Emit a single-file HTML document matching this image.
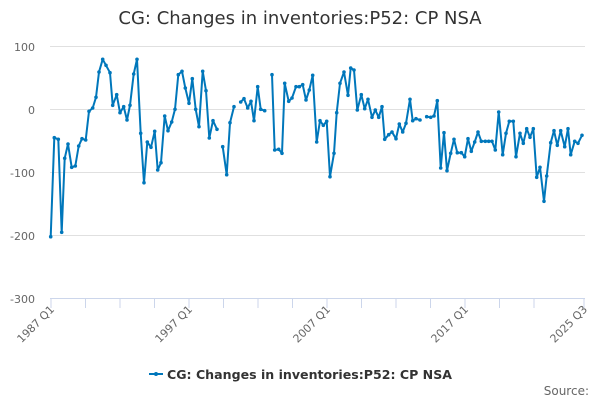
<!DOCTYPE html>
<html><head><meta charset="utf-8"><style>
body{margin:0;background:#fff;}
svg{display:block;font-family:"DejaVu Sans","Liberation Sans",sans-serif;}
</style></head><body>
<svg width="600" height="400" viewBox="0 0 600 400" xmlns="http://www.w3.org/2000/svg">
<text x="300" y="24" text-anchor="middle" font-size="18" fill="#333">CG: Changes in inventories:P52: CP NSA</text>
<g stroke="#e0e0e0" stroke-width="1">
<line x1="50" y1="46.5" x2="585" y2="46.5"/>
<line x1="50" y1="109.5" x2="585" y2="109.5"/>
<line x1="50" y1="172.5" x2="585" y2="172.5"/>
<line x1="50" y1="235.5" x2="585" y2="235.5"/>
</g>
<line x1="50" y1="298.5" x2="585" y2="298.5" stroke="#ccd6eb"/>
<g stroke="#ccd6eb">
<line x1="51" y1="298" x2="51" y2="308"/><line x1="85.5" y1="298" x2="85.5" y2="308"/><line x1="120" y1="298" x2="120" y2="308"/><line x1="154.5" y1="298" x2="154.5" y2="308"/><line x1="189" y1="298" x2="189" y2="308"/><line x1="223.5" y1="298" x2="223.5" y2="308"/><line x1="258" y1="298" x2="258" y2="308"/><line x1="292.5" y1="298" x2="292.5" y2="308"/><line x1="327" y1="298" x2="327" y2="308"/><line x1="361.5" y1="298" x2="361.5" y2="308"/><line x1="396" y1="298" x2="396" y2="308"/><line x1="430.5" y1="298" x2="430.5" y2="308"/><line x1="465" y1="298" x2="465" y2="308"/><line x1="499.5" y1="298" x2="499.5" y2="308"/><line x1="534" y1="298" x2="534" y2="308"/><line x1="584" y1="298" x2="584" y2="308"/>
</g>
<g font-size="11" fill="#666" text-anchor="end">
<text x="35" y="51">100</text><text x="35" y="114">0</text><text x="35" y="177">-100</text><text x="35" y="240">-200</text><text x="35" y="303">-300</text>
</g>
<g font-size="11" fill="#666" text-anchor="end">
<text transform="translate(55,310) rotate(-45)">1987 Q1</text>
<text transform="translate(193,310) rotate(-45)">1997 Q1</text>
<text transform="translate(331,310) rotate(-45)">2007 Q1</text>
<text transform="translate(469,310) rotate(-45)">2017 Q1</text>
<text transform="translate(588,310) rotate(-45)">2025 Q3</text>
</g>
<g fill="none" stroke="#0077bb" stroke-width="2" stroke-linejoin="round">
<polyline id="a" points="50.7,236.7 54.3,137.7 58.3,139.3 61.7,232.3 64.7,158.3 68,144 71.7,167.3 75.3,166 78.7,146 82,138.7 85.7,140 89,111.3 92.7,108 96,97.3 99,72 102.7,59.3 106,65.3 110,72.7 112.7,105.3 116.7,94.7 120,112.7 123.7,106.7 127,120 130,105.3 133.7,74 137,59.3 140.7,133.3 144,182.7 147.3,142 151,147.3 154.7,131.3 157.7,170 161,162.7 164.7,116 168,130.7 171.7,122 175,109.3 178.3,74.7 182,71.3 185.3,88 189,103.3 192.3,78.7 195.7,109.3 199,126.7 202.7,71.3 206,90.7 209.3,138 213,120.7 217,129.3"/>
<polyline id="b" points="222.7,146.7 226.7,174.7 230,122.7 234,106.7"/>
<polyline id="c" points="240.7,102 244,98.7 247.7,108 251,101.3 254,120.7 257.7,86.7 260.7,109.3 264.7,110.7"/>
<polyline id="d" points="272,74.7 274.7,150 278.7,149.3 282,153.3 284.7,83.3 288.7,101.3 292,98 296,86.7 299.3,86.7 302.7,84.7 306,100 309.3,90 312.7,75.3 316.7,142 320,120.7 323.3,125.3 326.7,121.3 330,176.7 334,153.3 336.7,112.7 340,83.3 344,72 348,95.3 350.7,68 354,70 357.3,110 361.3,94.7 364.7,108.7 368,99.3 372,117.3 375.3,110 378.7,117.3 382,106.7 384.7,139.3 388.7,134.7 392,132 396,138.7 399.3,124 402.7,132 406,123.3 410,99.3 412.7,120.7 416,118.7 420,120"/>
<polyline id="e" points="426.7,116.7 430.7,117.3 434,116 437.3,100.7 440.7,168 444,132.7 447,170.7 450.7,153.3 454,139.3 457.3,152.7 461.3,152.7 464.7,156.7 468,138.7 471.3,151.3 474.7,142 478,132 481.3,141.3 485.3,141.3 488.7,141.3 492,141.3 495.3,150 498.7,112 502.7,154.7 506,133.3 509.3,121.3 513.3,121.3 516,156.7 520,133.3 523.3,143.3 526.7,128.7 530,137.3 533.3,128.7 536.7,177.3 540,167.3 544,201.3 546.7,176 550.7,142.7 554,130.7 557.3,145.3 560.7,130.7 564.7,146.7 568,128.7 570.7,154.7 574.7,141.3 578,143.3 582,135.3"/>
</g>
<g fill="#0077bb" id="dots"></g>
<line x1="149" y1="374" x2="163" y2="374" stroke="#0077bb" stroke-width="2"/>
<circle cx="156" cy="374" r="2" fill="#0077bb"/>
<text x="167" y="379" font-size="12.5" font-weight="bold" fill="#333" textLength="285" lengthAdjust="spacingAndGlyphs">CG: Changes in inventories:P52: CP NSA</text>
<text x="589" y="395" font-size="12" fill="#666" text-anchor="end">Source:</text>
<script>
var g=document.getElementById('dots');
['a','b','c','d','e'].forEach(function(id){
 document.getElementById(id).getAttribute('points').trim().split(/\s+/).forEach(function(p){
  var q=p.split(',');var c=document.createElementNS('http://www.w3.org/2000/svg','circle');
  c.setAttribute('cx',q[0]);c.setAttribute('cy',q[1]);c.setAttribute('r','1.8');g.appendChild(c);});
});
</script>
</svg>
</body></html>
